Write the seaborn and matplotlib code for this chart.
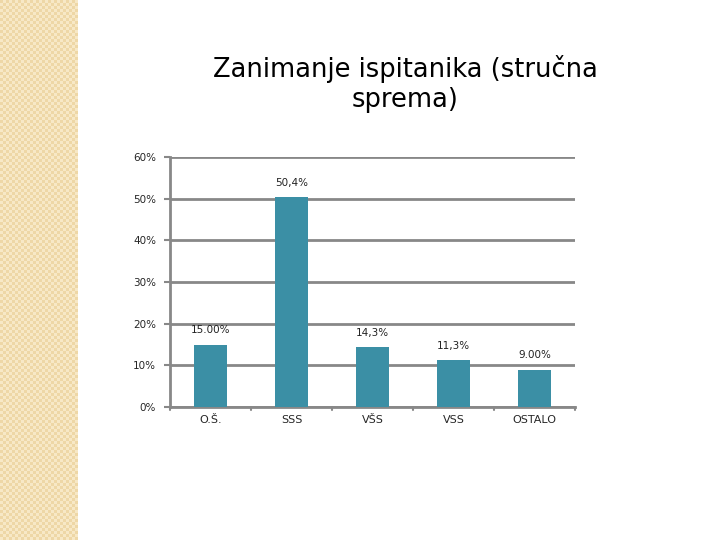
import numpy as np
import pandas as pd
import matplotlib
matplotlib.use("Agg")
import matplotlib.pyplot as plt
import seaborn as sns
from matplotlib.colors import ListedColormap

categories = ["O.Š.", "SSS", "VŠS", "VSS", "OSTALO"]
values = [15.0, 50.4, 14.3, 11.3, 9.0]
value_labels = ["15.00%", "50,4%", "14,3%", "11,3%", "9.00%"]
y_ticks = [0, 10, 20, 30, 40, 50, 60]
y_tick_labels = ["0%", "10%", "20%", "30%", "40%", "50%", "60%"]
title = "Zanimanje ispitanika (stručna\nsprema)"

sns.set_theme(style="white")
plt.rcParams['font.family'] = ['DejaVu Sans']

fig = plt.figure(figsize=(7.2, 5.4), dpi=100)
fig.patch.set_facecolor("white")

# left decorative checkered strip
strip = fig.add_axes([0, 0, 78 / 720, 1])
n = 180
yy, xx = np.mgrid[0:n, 0:26]
checker = ((xx + yy) % 2).astype(float)
strip.imshow(checker, cmap=ListedColormap(["#eed7a6", "#f7e8c6"]), aspect="auto", interpolation="nearest")
strip.set_axis_off()

ax = fig.add_axes([170 / 720, 1 - 407 / 540, 405 / 720, 250 / 540])
df = pd.DataFrame({"cat": categories, "val": values})
sns.barplot(data=df, x="cat", y="val", color="#3b8fa5", width=0.4, saturation=1,
            edgecolor="#3b8fa5", linewidth=0, ax=ax, zorder=3)

ax.set_ylim(0, 60)
ax.set_xlim(-0.5, len(categories) - 0.5)
ax.set_yticks(y_ticks)
ax.set_yticklabels(y_tick_labels, fontsize=7.5)
ax.yaxis.grid(True, color="#888888", linewidth=2, zorder=0)
ax.set_axisbelow(True)
ax.set_xlabel("")
ax.set_ylabel("")
ax.set_xticks(range(len(categories)))
ax.set_xticklabels(categories, fontsize=8)
ax.tick_params(axis="x", length=0, pad=6)
ax.tick_params(axis="y", length=4, width=1.5, color="#888888", left=True, pad=6)
for b in np.arange(-0.5, len(categories), 1.0):
    ax.plot([b, b], [0, -0.8], color="#888888", lw=1.5, clip_on=False)

for side in ["top", "right"]:
    ax.spines[side].set_visible(False)
ax.spines["left"].set_color("#888888")
ax.spines["left"].set_linewidth(2)
ax.spines["bottom"].set_color("#888888")
ax.spines["bottom"].set_linewidth(2)

for i, (v, lab) in enumerate(zip(values, value_labels)):
    ax.text(i, v + 2.2, lab, ha="center", va="bottom", fontsize=7.5, color="#222222")

fig.text(0.563, 0.845, title, ha="center", va="center", fontsize=18.5, color="black", linespacing=1.2)

fig.savefig("out.png", dpi=100)
